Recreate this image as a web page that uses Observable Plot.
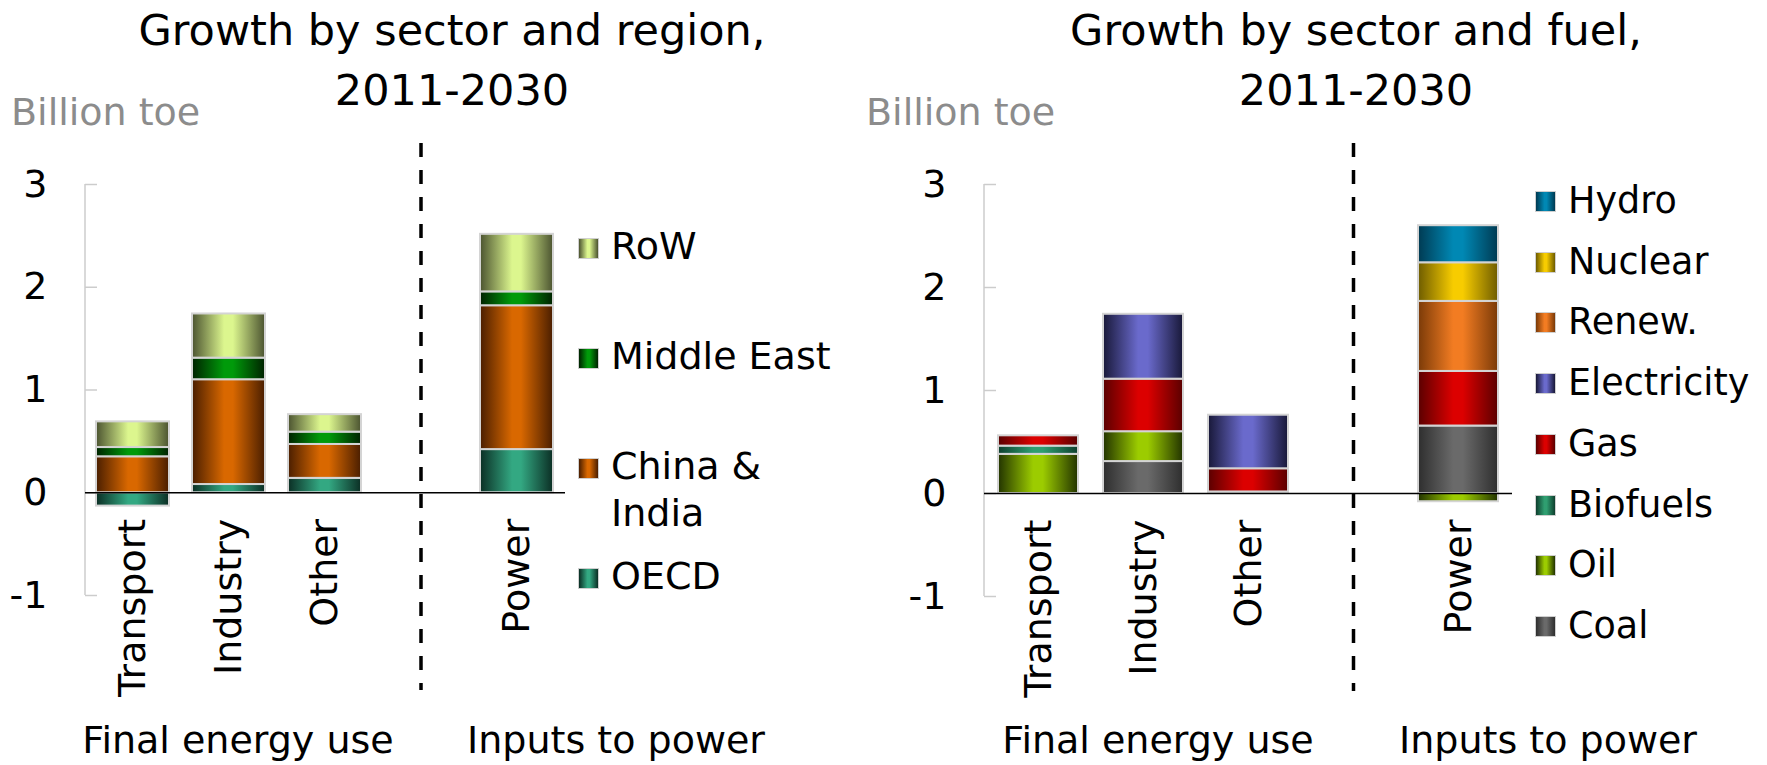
<!DOCTYPE html>
<html><head><meta charset="utf-8">
<script src="https://cdn.jsdelivr.net/npm/d3@7"></script>
<script src="https://cdn.jsdelivr.net/npm/@observablehq/plot@0.6"></script>
<style>
body{margin:0;background:#fff;}
#root{position:relative;width:1767px;height:765px;overflow:hidden;font-family:"DejaVu Sans",sans-serif;color:#000;background:#fff;}
.abs{position:absolute;white-space:nowrap;}
.title{font-size:43px;line-height:60px;transform:translateX(-50%);}
.unit{font-size:38px;line-height:44px;color:#8c8c8c;top:90px;}
.group{font-size:38px;line-height:44px;top:718px;transform:translateX(-50%);}
.leg{position:absolute;white-space:pre-line;padding-left:33px;}
.sw{position:absolute;left:0;width:19px;height:19px;border:1.5px solid #cfcfcf;}
svg{position:absolute;top:0;}
</style></head><body><div id="root"></div>
<script>
// ---------- data ----------
const sectors = ["Transport", "Industry", "Other", "Power"];
const slots = ["Transport", "Industry", "Other", "gap", "Power"];
const yTicks = [-1, 0, 1, 2, 3];

const titleLeft = ["Growth by sector and region,", "2011-2030"];
const titleRight = ["Growth by sector and fuel,", "2011-2030"];
const unitLabel = "Billion toe";
const groupLabels = ["Final energy use", "Inputs to power"];

// Left panel: by region (bottom to top)
const regions = ["OECD", "China & India", "Middle East", "RoW"];
const regionLegendLabels = ["OECD", "China &\nIndia", "Middle East", "RoW"];
const oecd        = [-0.13, 0.08, 0.14, 0.42];
const chinaIndia  = [0.35, 1.02, 0.33, 1.40];
const middleEast  = [0.09, 0.21, 0.12, 0.135];
const restOfWorld = [0.25, 0.43, 0.17, 0.56];
const regionDark   = ["#0b2e24", "#4a1e00", "#002200", "#4b5330"];
const regionBright = ["#33a882", "#d96800", "#009a0a", "#dcf68e"];

// Right panel: by fuel (bottom to top)
const fuels = ["Coal", "Oil", "Biofuels", "Gas", "Electricity", "Renew.", "Nuclear", "Hydro"];
const coal        = [0, 0.31, 0, 0.655];
const oil         = [0.38, 0.29, 0.015, -0.08];
const biofuels    = [0.08, 0, 0, 0];
const gas         = [0.10, 0.51, 0.225, 0.53];
const electricity = [0, 0.63, 0.52, 0];
const renewables  = [0, 0, 0, 0.68];
const nuclear     = [0, 0, 0, 0.375];
const hydro       = [0, 0, 0, 0.36];
const fuelDark   = ["#2e2e2e", "#223300", "#0e3f2e", "#5a0000", "#181838", "#7a3a08", "#6e5c00", "#003a52"];
const fuelBright = ["#6a6a6a", "#9ccc00", "#2f9e70", "#dc0000", "#6a6acc", "#f27c22", "#f7cc00", "#0088b4"];

// ---------- helpers ----------
function toRows(series, arrays) {
  const rows = [];
  series.forEach((s, j) => sectors.forEach((sec, i) => {
    if (arrays[j][i] !== 0) rows.push({sector: sec, series: s, value: arrays[j][i]});
  }));
  return rows;
}
const svgns = "http://www.w3.org/2000/svg";

function makePanel({rows, series, dark, bright, prefix, width, marginLeft, marginRight, marginBottom, left}) {
  const svg = Plot.plot({
    width, height: 765,
    marginLeft, marginRight, marginTop: 184, marginBottom,
    x: {domain: slots, paddingInner: 0.235, paddingOuter: 0.1175, axis: null},
    y: {domain: [-1, 3]},
    color: {type: "ordinal", domain: series, range: series.map((_, i) => `url(#${prefix}${i})`)},
    style: {fontFamily: "DejaVu Sans", fontSize: "38px", background: "transparent", overflow: "visible", color: "#000"},
    marks: [
      (index, scales, values, dims) => {
        const el = document.createElementNS(svgns, "line");
        el.setAttribute("x1", dims.marginLeft); el.setAttribute("x2", dims.marginLeft);
        el.setAttribute("y1", scales.y(3)); el.setAttribute("y2", scales.y(-1));
        el.setAttribute("stroke", "#cccccc"); el.setAttribute("stroke-width", 1.5);
        return el;
      },
      Plot.axisY({ticks: yTicks, tickSize: -12, tickPadding: 50, stroke: "#cccccc", strokeWidth: 1.5,
        fill: "#000", fontSize: 38, tickFormat: d => String(d), label: null}),
      Plot.barY(rows, {x: "sector", y: "value", fill: "series", stroke: "#d4d4d4", strokeWidth: 2}),
      Plot.ruleY([0], {stroke: "#000", strokeWidth: 1.6}),
      Plot.ruleX(["gap"], {x: d => d, stroke: "#000", strokeWidth: 3.5, strokeDasharray: "14,13",
        insetTop: -41, insetBottom: -95}),
      Plot.text(sectors, {x: d => d, y: () => 0, dy: 26, rotate: -90, textAnchor: "end",
        lineAnchor: "middle", fontSize: 38, fill: "#000"})
    ]
  });
  const defs = d3.select(svg).insert("defs", ":first-child");
  series.forEach((s, i) => {
    const g = defs.append("linearGradient").attr("id", prefix + i)
      .attr("x1", "0%").attr("x2", "100%").attr("y1", "0%").attr("y2", "0%");
    g.append("stop").attr("offset", "0%").attr("stop-color", dark[i]);
    g.append("stop").attr("offset", "44%").attr("stop-color", bright[i]);
    g.append("stop").attr("offset", "56%").attr("stop-color", bright[i]);
    g.append("stop").attr("offset", "100%").attr("stop-color", dark[i]);
  });
  svg.style.left = left + "px";
  return svg;
}

const root = document.getElementById("root");
function addDiv(cls, text, css) {
  const d = document.createElement("div");
  d.className = cls; d.textContent = text;
  Object.assign(d.style, css);
  root.appendChild(d);
  return d;
}

// ---------- panels ----------
root.appendChild(makePanel({
  rows: toRows(regions, [oecd, chinaIndia, middleEast, restOfWorld]),
  series: regions, dark: regionDark, bright: regionBright, prefix: "gL",
  width: 880, marginLeft: 85, marginRight: 315, marginBottom: 170, left: 0
}));
root.appendChild(makePanel({
  rows: toRows(fuels, [coal, oil, biofuels, gas, electricity, renewables, nuclear, hydro]),
  series: fuels, dark: fuelDark, bright: fuelBright, prefix: "gR",
  width: 887, marginLeft: 104, marginRight: 255, marginBottom: 169, left: 880
}));

// ---------- titles and labels ----------
titleLeft.forEach((t, i) => addDiv("abs title", t, {left: "452px", top: (i * 60) + "px"}));
titleRight.forEach((t, i) => addDiv("abs title", t, {left: "1356px", top: (i * 60) + "px"}));
addDiv("abs unit", unitLabel, {left: "11px"});
addDiv("abs unit", unitLabel, {left: "866px"});
addDiv("abs group", groupLabels[0], {left: "238px"});
addDiv("abs group", groupLabels[1], {left: "616px"});
addDiv("abs group", groupLabels[0], {left: "1158px"});
addDiv("abs group", groupLabels[1], {left: "1548px"});

// ---------- legends ----------
function legend(labels, dark, bright, {left, top, step, fontSize, lineHeight, swTop}) {
  const n = labels.length;
  labels.forEach((lab, i) => {
    const k = n - 1 - i; // top-down order
    const item = document.createElement("div");
    item.className = "leg";
    item.textContent = lab;
    Object.assign(item.style, {left: left + "px", top: (top + k * step) + "px",
      fontSize: fontSize + "px", lineHeight: lineHeight + "px"});
    const sw = document.createElement("div");
    sw.className = "sw";
    sw.style.top = swTop + "px";
    sw.style.background = `linear-gradient(to right, ${dark[i]}, ${bright[i]} 44%, ${bright[i]} 56%, ${dark[i]})`;
    item.appendChild(sw);
    root.appendChild(item);
  });
}
legend(regionLegendLabels, regionDark, regionBright, {left: 578, top: 223, step: 110, fontSize: 38, lineHeight: 47, swTop: 15});
legend(fuels, fuelDark, fuelBright, {left: 1535, top: 178, step: 60.7, fontSize: 36.5, lineHeight: 45, swTop: 13});
</script></body></html>
